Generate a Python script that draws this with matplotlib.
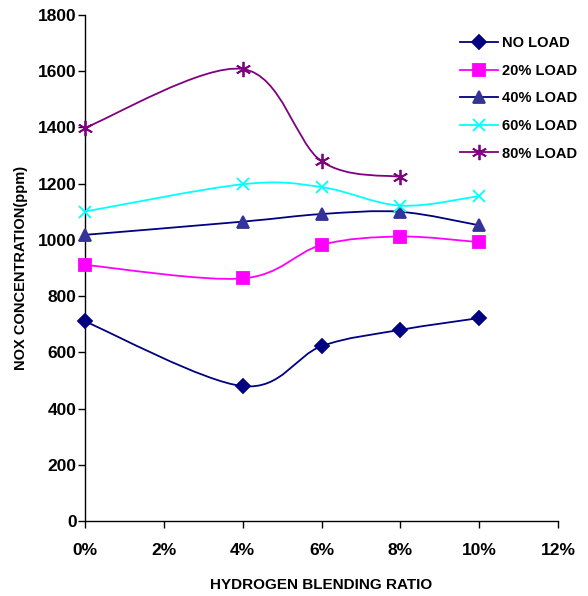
import matplotlib
matplotlib.use("Agg")
import matplotlib.pyplot as plt
from matplotlib.path import Path
from matplotlib.patches import PathPatch
from matplotlib.lines import Line2D
import numpy as np

plt.rcParams['font.family'] = ['Liberation Sans', 'DejaVu Sans']

# hydrogen blending ratio (fraction)
ratio = [0.0, 0.04, 0.06, 0.08, 0.10]

no_load = [710, 480, 622, 680, 722]
load_20 = [911, 863, 982, 1012, 992]
load_40 = [1018, 1065, 1092, 1100, 1052]
load_60 = [1101, 1198, 1188, 1122, 1156]
load_80 = [1399, 1608, 1280, 1224]

labels = ["NO LOAD", "20% LOAD", "40% LOAD", "60% LOAD", "80% LOAD"]
x_ticks = [0, 0.02, 0.04, 0.06, 0.08, 0.10, 0.12]
x_ticklabels = ["0%", "2%", "4%", "6%", "8%", "10%", "12%"]
y_ticks = [0, 200, 400, 600, 800, 1000, 1200, 1400, 1600, 1800]


def smooth_path(xs, ys):
    # excel-like smoothed line: bezier segments through the points
    p = np.column_stack([xs, ys]).astype(float)
    n = len(p)
    verts = [p[0]]
    codes = [Path.MOVETO]
    for i in range(n - 1):
        p0 = p[i - 1] if i > 0 else p[i]
        p3 = p[i + 2] if i + 2 < n else p[i + 1]
        c1 = p[i] + (p[i + 1] - p0) / 6.0
        c2 = p[i + 1] - (p3 - p[i]) / 6.0
        verts += [c1, c2, p[i + 1]]
        codes += [Path.CURVE4] * 3
    return Path(verts, codes)


fig = plt.figure(figsize=(5.88, 5.96), dpi=100)
ax = fig.add_axes([0.1446, 0.1258, 0.8044, 0.849])

series = [
    (ratio, no_load, "#000080", "D", "#000080", 7),
    (ratio, load_20, "#FF00FF", "s", "#FF00FF", 8),
    (ratio, load_40, "#000080", "^", "#333399", 8.5),
    (ratio, load_60, "#00FFFF", "x", "#00FFFF", 9),
    (ratio[:4], load_80, "#800080", (6, 2, 0), "#800080", 11),
]

handles = []
for (xs, ys, lc, mk, mc, ms), lab in zip(series, labels):
    ax.add_patch(PathPatch(smooth_path(xs, ys), facecolor="none",
                           edgecolor=lc, lw=1.3, clip_on=False, zorder=2))
    ax.plot(xs, ys, linestyle="none", marker=mk, color=mc, markersize=ms,
            markeredgewidth=1.3, clip_on=False, zorder=3)
    handles.append(Line2D([], [], color=lc, lw=1.3, marker=mk,
                          markerfacecolor=mc, markeredgecolor=mc,
                          markersize=ms, markeredgewidth=1.3))

ax.set_xlim(0, 0.12)
ax.set_ylim(0, 1800)
ax.set_xticks(x_ticks)
ax.set_xticklabels(x_ticklabels)
ax.set_yticks(y_ticks)
for s in ["top", "right"]:
    ax.spines[s].set_visible(False)
for s in ["left", "bottom"]:
    ax.spines[s].set_linewidth(1.0)
ax.tick_params(axis="both", direction="out", length=5, width=1,
               labelsize=12.5)
ax.tick_params(axis="x", pad=11)
ax.tick_params(axis="y", pad=1)
for t in ax.get_xticklabels() + ax.get_yticklabels():
    t.set_fontweight("bold")

ax.set_xlabel("HYDROGEN BLENDING RATIO", fontsize=11, fontweight="bold",
              labelpad=14)
ax.set_ylabel("NOX CONCENTRATION(ppm)", fontsize=10.5, fontweight="bold",
              labelpad=7)

leg = ax.legend(handles, labels, loc="upper left", bbox_to_anchor=(0.793, 0.958),
                frameon=False, prop={"weight": "bold", "size": 10.5},
                borderpad=0, borderaxespad=0,
                handlelength=2.6, handletextpad=0.3, labelspacing=0.93)

fig.savefig("out.png", dpi=100)
